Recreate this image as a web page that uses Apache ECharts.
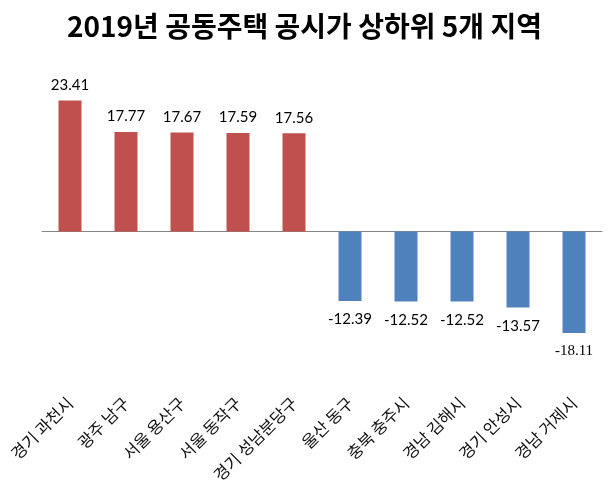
<!DOCTYPE html>
<html><head><meta charset="utf-8">
<script src="https://cdn.jsdelivr.net/npm/echarts@6/dist/echarts.min.js"></script>
<style>html,body{margin:0;padding:0;background:#fff}#c{width:609px;height:491px}</style>
</head><body><div id="c"></div>
<script>
const categories = ['경기 과천시','광주 남구','서울 용산구','서울 동작구','경기 성남분당구','울산 동구','충북 충주시','경남 김해시','경기 안성시','경남 거제시'];
const values = [23.41, 17.77, 17.67, 17.59, 17.56, -12.39, -12.52, -12.52, -13.57, -18.11];
const titleText = '2019년 공동주택 공시가 상하위 5개 지역';

const posColor = '#c0504d', negColor = '#4f81bd';
const chart = echarts.init(document.getElementById('c'), null, {renderer:'canvas'});
chart.setOption({
  animation:false,
  title:{text:titleText,left:'center',top:7,textStyle:{fontFamily:'Noto Sans CJK KR',fontWeight:'bold',fontSize:28,color:'#000'}},
  grid:{left:42,right:7,top:91.5,bottom:147.5,containLabel:false},
  xAxis:[
    {type:'category',data:categories,axisLine:{onZero:true,lineStyle:{color:'#868686',width:1}},axisTick:{show:false},axisLabel:{show:false}},
    {type:'category',data:categories,position:'bottom',offset:48.5,axisLine:{show:false,onZero:false},axisTick:{show:false},
     axisLabel:{rotate:45,margin:8,fontSize:16.5,fontFamily:'Noto Sans CJK KR',color:'#111',interval:0}}
  ],
  yAxis:{type:'value',min:-20,max:25,show:false,splitLine:{show:false}},
  series:[{
    type:'bar',xAxisIndex:0,barWidth:23,
    data:values.map((v,i)=>({value:v,itemStyle:{color:v>=0?posColor:negColor},
      label:{position:v>=0?'top':'bottom',distance:v>=0?8:11,
        fontFamily:(i===values.length-1)?'Liberation Serif':'Lato'}})),
    label:{show:true,fontSize:15,color:'#000',formatter:p=>p.value.toFixed(2)}
  }]
});
</script></body></html>
